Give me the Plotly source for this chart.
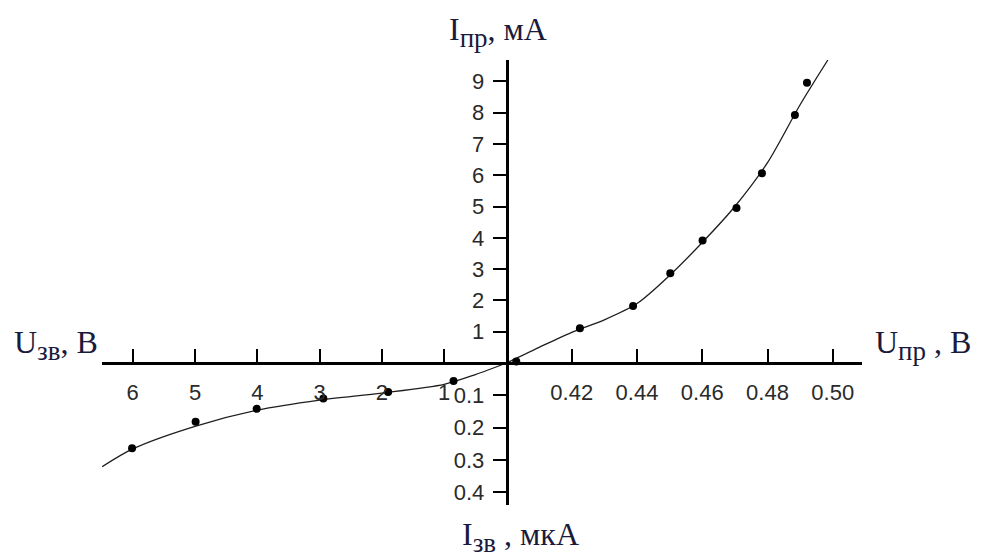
import plotly.graph_objects as go

# ---------------- data ----------------
# forward branch: U_пр (V), I_пр (mA)
fwd_u_pts = [0.403, 0.4225, 0.4388, 0.4502, 0.4601, 0.4705, 0.4783, 0.4884, 0.4921]
fwd_i_pts = [0.05, 1.11, 1.82, 2.87, 3.91, 4.95, 6.06, 7.92, 8.95]
fwd_u_curve = [0.400, 0.410, 0.420, 0.430, 0.440, 0.450, 0.460, 0.470, 0.480, 0.490, 0.4985]
fwd_i_curve = [0.0, 0.50, 0.98, 1.38, 1.90, 2.80, 3.85, 5.00, 6.40, 8.25, 9.68]

# reverse branch: U_зв (V), I_зв (μA)
rev_u_pts = [6.01, 4.99, 4.01, 2.94, 1.90, 0.85]
rev_i_pts = [0.264, 0.182, 0.142, 0.110, 0.090, 0.056]
rev_u_curve = [0.0, 0.5, 1.0, 2.0, 3.0, 4.0, 5.0, 6.0, 6.49]
rev_i_curve = [0.0, 0.036, 0.066, 0.093, 0.115, 0.146, 0.196, 0.266, 0.321]

# tick labels
fwd_u_ticks = [0.42, 0.44, 0.46, 0.48, 0.50]
fwd_u_labels = ["0.42", "0.44", "0.46", "0.48", "0.50"]
rev_u_ticks = [1, 2, 3, 4, 5, 6]
rev_u_labels = ["1", "2", "3", "4", "5", "6"]
fwd_i_ticks = [1, 2, 3, 4, 5, 6, 7, 8, 9]
fwd_i_labels = ["1", "2", "3", "4", "5", "6", "7", "8", "9"]
rev_i_ticks = [0.1, 0.2, 0.3, 0.4]
rev_i_labels = ["0.1", "0.2", "0.3", "0.4"]

# ---------------- composite axis mapping ----------------
U0, DU = 0.40, 0.02          # forward voltage origin and tick step
REV_X = 62.3 / 65.25         # reverse volt vs forward step scale
REV_Y = 10 * 32.3 / 31.3     # μA -> plot units


def fx(u):
    return [(v - U0) / DU for v in u]


def rx(u):
    return [-v * REV_X for v in u]


def fy(i):
    return list(i)


def ry(i):
    return [-v * REV_Y for v in i]


W, H = 982, 560
L, R, T, B = 102, 120, 60, 55
pw, ph = W - L - R, H - T - B
x_unit, y_unit = 65.25, 31.3
ox_px, oy_px = 506.5, 363
xmin = -(ox_px - L) / x_unit
xmax = (W - R - ox_px) / x_unit
ymax = (oy_px - T) / y_unit
ymin = -(H - B - oy_px) / y_unit

line_col = "#1e1e1e"
fig = go.Figure()
fig.add_trace(go.Scatter(x=fx(fwd_u_curve), y=fy(fwd_i_curve), mode="lines",
                         line=dict(color=line_col, width=1.3, shape="spline", smoothing=0.8),
                         hoverinfo="skip", showlegend=False))
fig.add_trace(go.Scatter(x=rx(rev_u_curve), y=ry(rev_i_curve), mode="lines",
                         line=dict(color=line_col, width=1.3, shape="spline", smoothing=0.8),
                         hoverinfo="skip", showlegend=False))
fig.add_trace(go.Scatter(x=fx(fwd_u_pts), y=fy(fwd_i_pts), mode="markers",
                         marker=dict(color="black", size=8), showlegend=False))
fig.add_trace(go.Scatter(x=rx(rev_u_pts), y=ry(rev_i_pts), mode="markers",
                         marker=dict(color="black", size=8), showlegend=False))

tick_font = dict(family="Liberation Sans", size=22, color="#2a2a2a")

fig.update_layout(
    width=W, height=H, autosize=False,
    margin=dict(l=L, r=R, t=T, b=B, pad=0),
    paper_bgcolor="white", plot_bgcolor="white",
    xaxis=dict(range=[xmin, xmax], showgrid=False, zeroline=False,
               showline=True, linecolor="black", linewidth=2.5,
               anchor="free", position=(0 - ymin) / (ymax - ymin),
               tickmode="array",
               tickvals=fx(fwd_u_ticks) + rx(rev_u_ticks),
               ticktext=fwd_u_labels + rev_u_labels,
               ticks="inside", ticklen=13, tickwidth=1.5, tickcolor="black",
               tickfont=tick_font, ticklabelstandoff=9, automargin=False,
               fixedrange=True),
    yaxis=dict(range=[ymin, ymax], showgrid=False, zeroline=False,
               showline=True, linecolor="black", linewidth=2.5,
               anchor="free", position=(0 - xmin) / (xmax - xmin),
               tickmode="array",
               tickvals=fy(fwd_i_ticks) + ry(rev_i_ticks),
               ticktext=fwd_i_labels + rev_i_labels,
               ticks="outside", ticklen=13, tickwidth=1.5, tickcolor="black",
               tickfont=tick_font, ticklabelstandoff=4, automargin=False,
               fixedrange=True),
)


def px_x(p):
    return (p - L) / pw


def px_y(p):
    return (H - B - p) / ph


title_font = dict(family="Liberation Serif", size=32, color="#1a1a3c")
SUB = '<sub><span style="font-size:27px">{}</span></sub>'
labels = [
    ("I" + SUB.format("пр") + ", мА", 447, 32),
    ("U" + SUB.format("зв") + ", B", 12, 345),
    ("U" + SUB.format("пр") + " , B", 873, 345),
    ("I" + SUB.format("зв") + " , мкА", 460, 537),
]
for txt, x0, yc in labels:
    fig.add_annotation(text=txt, xref="paper", yref="paper",
                       x=px_x(x0), y=px_y(yc), xanchor="left", yanchor="middle",
                       showarrow=False, font=title_font)

fig.write_html("out.html")
